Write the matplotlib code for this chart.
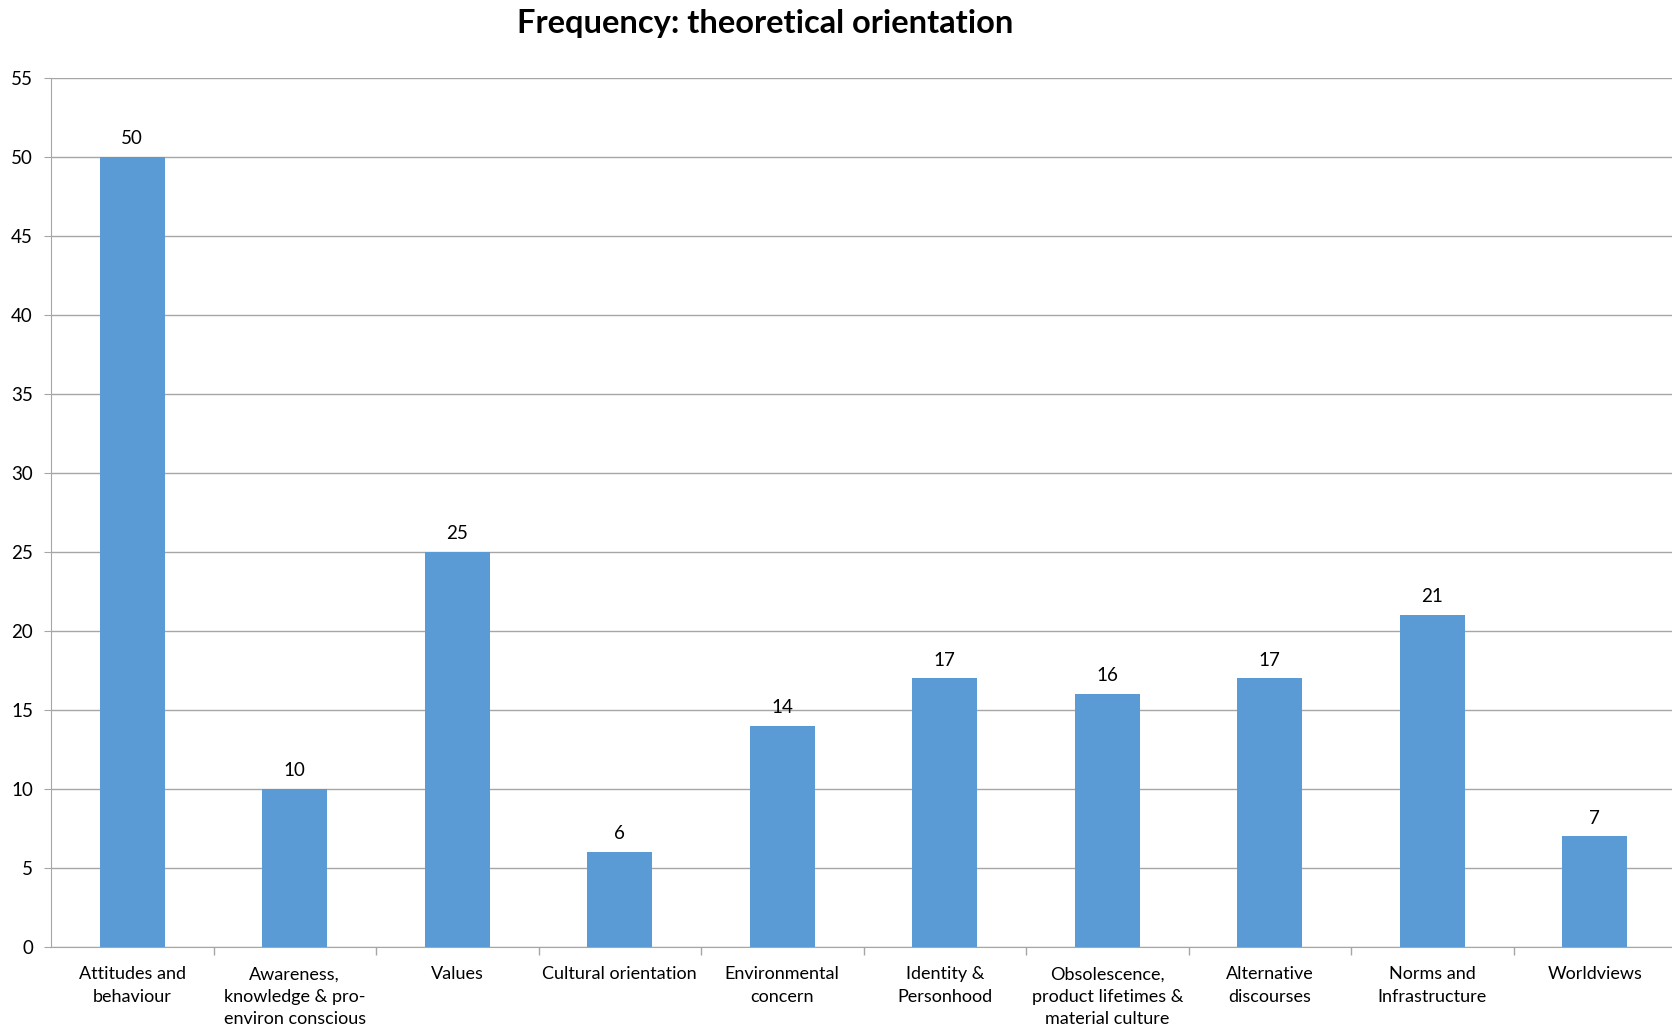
import matplotlib.pyplot as plt
import numpy as np

plt.rcParams['font.family'] = ['Lato', 'DejaVu Sans']

categories = ["Attitudes and\nbehaviour", "Awareness,\nknowledge & pro-\nenviron conscious",
              "Values", "Cultural orientation", "Environmental\nconcern",
              "Identity &\nPersonhood", "Obsolescence,\nproduct lifetimes &\nmaterial culture",
              "Alternative\ndiscourses", "Norms and\nInfrastructure", "Worldviews"]
counts = [50, 10, 25, 6, 14, 17, 16, 17, 21, 7]

fig = plt.figure(figsize=(16.72, 10.33), dpi=100)
ax = fig.add_axes([51 / 1672, 1 - 947 / 1033, 1625 / 1672, 869 / 1033])

index = np.arange(len(categories))
bars = ax.bar(index, counts, 0.40, color='#5B9BD5', zorder=3)

for b, v in zip(bars, counts):
    ax.annotate(str(v), (b.get_x() + b.get_width() / 2, v), xytext=(0, 7),
                textcoords='offset points', ha='center', va='bottom', fontsize=13.5)

ax.set_xlim(-0.5, len(categories) - 0.5)
ax.set_ylim(0, 55)
ax.set_yticks(np.arange(0, 56, 5))
ax.grid(axis='y', color='#A6A6A6', linewidth=1, zorder=0)

ax.set_xticks(index)
ax.set_xticklabels(categories, fontsize=13, linespacing=1.5)
ax.set_xticks(index[:-1] + 0.5, minor=True)
ax.tick_params(axis='x', which='major', length=0, pad=14)
ax.tick_params(axis='x', which='minor', length=6, color='#A6A6A6', width=1)
ax.tick_params(axis='y', length=5, color='#A6A6A6', labelsize=13.5, pad=8)

for s in ['top', 'right']:
    ax.spines[s].set_visible(False)
for s in ['left', 'bottom']:
    ax.spines[s].set_color('#A6A6A6')

fig.text(765 / 1672, 1 - 23 / 1033, "Frequency: theoretical orientation",
         ha='center', va='center', fontsize=23.5, fontweight='bold')

fig.savefig('out.png', dpi=100)
